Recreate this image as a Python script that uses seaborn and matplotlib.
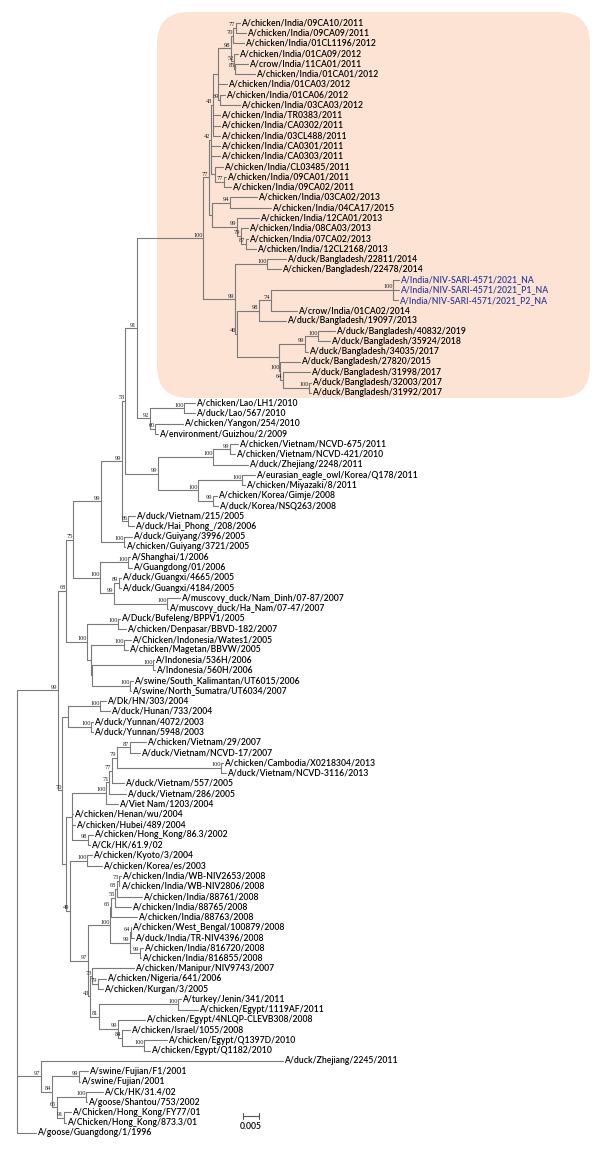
import matplotlib
matplotlib.use("Agg")
import matplotlib.pyplot as plt
from matplotlib.patches import FancyBboxPatch
from matplotlib.transforms import IdentityTransform
import numpy as np
import pandas as pd
import seaborn as sns

# ---------------- data ----------------
# tip labels, top to bottom
leaf_names = [
    "A/chicken/India/09CA10/2011", "A/chicken/India/09CA09/2011", "A/chicken/India/01CL1196/2012",
    "A/chicken/India/01CA09/2012", "A/crow/India/11CA01/2011", "A/chicken/India/01CA01/2012",
    "A/chicken/India/01CA03/2012", "A/chicken/India/01CA06/2012", "A/chicken/India/03CA03/2012",
    "A/chicken/India/TR0383/2011", "A/chicken/India/CA0302/2011", "A/chicken/India/03CL488/2011",
    "A/chicken/India/CA0301/2011", "A/chicken/India/CA0303/2011", "A/chicken/India/CL03485/2011",
    "A/chicken/India/09CA01/2011", "A/chicken/India/09CA02/2011", "A/chicken/India/03CA02/2013",
    "A/chicken/India/04CA17/2015", "A/chicken/India/12CA01/2013", "A/chicken/India/08CA03/2013",
    "A/chicken/India/07CA02/2013", "A/chicken/India/12CL2168/2013", "A/duck/Bangladesh/22811/2014",
    "A/chicken/Bangladesh/22478/2014", "A/India/NIV-SARI-4571/2021_NA", "A/India/NIV-SARI-4571/2021_P1_NA",
    "A/India/NIV-SARI-4571/2021_P2_NA", "A/crow/India/01CA02/2014", "A/duck/Bangladesh/19097/2013",
    "A/duck/Bangladesh/40832/2019", "A/duck/Bangladesh/35924/2018", "A/duck/Bangladesh/34035/2017",
    "A/duck/Bangladesh/27820/2015", "A/duck/Bangladesh/31998/2017", "A/duck/Bangladesh/32003/2017",
    "A/duck/Bangladesh/31992/2017", "A/chicken/Lao/LH1/2010", "A/duck/Lao/567/2010",
    "A/chicken/Yangon/254/2010", "A/environment/Guizhou/2/2009", "A/chicken/Vietnam/NCVD-675/2011",
    "A/chicken/Vietnam/NCVD-421/2010", "A/duck/Zhejiang/2248/2011", "A/eurasian_eagle_owl/Korea/Q178/2011",
    "A/chicken/Miyazaki/8/2011", "A/chicken/Korea/Gimje/2008", "A/duck/Korea/NSQ263/2008",
    "A/duck/Vietnam/215/2005", "A/duck/Hai_Phong_/208/2006", "A/duck/Guiyang/3996/2005",
    "A/chicken/Guiyang/3721/2005", "A/Shanghai/1/2006", "A/Guangdong/01/2006",
    "A/duck/Guangxi/4665/2005", "A/duck/Guangxi/4184/2005", "A/muscovy_duck/Nam_Dinh/07-87/2007",
    "A/muscovy_duck/Ha_Nam/07-47/2007", "A/Duck/Bufeleng/BPPV1/2005", "A/chicken/Denpasar/BBVD-182/2007",
    "A/Chicken/Indonesia/Wates1/2005", "A/chicken/Magetan/BBVW/2005", "A/Indonesia/536H/2006",
    "A/Indonesia/560H/2006", "A/swine/South_Kalimantan/UT6015/2006", "A/swine/North_Sumatra/UT6034/2007",
    "A/Dk/HN/303/2004", "A/duck/Hunan/733/2004", "A/duck/Yunnan/4072/2003",
    "A/duck/Yunnan/5948/2003", "A/chicken/Vietnam/29/2007", "A/duck/Vietnam/NCVD-17/2007",
    "A/chicken/Cambodia/X0218304/2013", "A/duck/Vietnam/NCVD-3116/2013", "A/duck/Vietnam/557/2005",
    "A/duck/Vietnam/286/2005", "A/Viet Nam/1203/2004", "A/chicken/Henan/wu/2004",
    "A/chicken/Hubei/489/2004", "A/chicken/Hong_Kong/86.3/2002", "A/Ck/HK/61.9/02",
    "A/chicken/Kyoto/3/2004", "A/chicken/Korea/es/2003", "A/chicken/India/WB-NIV2653/2008",
    "A/chicken/India/WB-NIV2806/2008", "A/chicken/India/88761/2008", "A/chicken/India/88765/2008",
    "A/chicken/India/88763/2008", "A/chicken/West_Bengal/100879/2008", "A/duck/India/TR-NIV4396/2008",
    "A/chicken/India/816720/2008", "A/chicken/India/816855/2008", "A/chicken/Manipur/NIV9743/2007",
    "A/chicken/Nigeria/641/2006", "A/chicken/Kurgan/3/2005", "A/turkey/Jenin/341/2011",
    "A/chicken/Egypt/1119AF/2011", "A/chicken/Egypt/4NLQP-CLEVB308/2008", "A/chicken/Israel/1055/2008",
    "A/chicken/Egypt/Q1397D/2010", "A/chicken/Egypt/Q1182/2010", "A/duck/Zhejiang/2245/2011",
    "A/swine/Fujian/F1/2001", "A/swine/Fujian/2001", "A/Ck/HK/31.4/02",
    "A/goose/Shantou/753/2002", "A/Chicken/Hong_Kong/FY77/01", "A/Chicken/Hong_Kong/873.3/01",
    "A/goose/Guangdong/1/1996",
]

# root-to-tip distance of each tip, in scale-bar units (16 units = 0.005 subst./site)
leaf_depth = [
    223, 229, 227, 221, 231, 238, 210, 208, 223, 203, 203, 203, 203, 203, 206, 209, 214,
    240, 254, 242, 231, 231, 239, 269, 264, 382, 382, 381, 280, 269, 318, 313, 291, 283,
    293, 294, 294, 178, 178, 166, 141, 221, 218, 231, 238, 228, 200, 201, 118, 117, 115,
    108, 113, 115, 104, 104, 163, 151, 103, 109, 114, 111, 137, 138, 116, 114, 89, 93,
    76, 76, 129, 123, 206, 209, 107, 109, 101, 56, 58, 76, 73, 75, 85, 104, 102.5, 125,
    114, 120, 114, 117, 126, 124, 117, 89, 86, 164, 181, 128, 113, 150, 133, 266, 71, 63,
    86, 70, 54, 49, 19,
]
highlight_leaves = [25, 26, 27]

# internal nodes: (id, root distance in scale-bar units, bootstrap, children)
nodes_shaded = [
    ("S", 186, "100", "Si Sb"), ("Si", 192, "77", "N42 N2013"),
    ("N42", 194, "42", "N43 L12 L13 NLi"), ("N43", 196, "43", "Ntop L9 L10 L11"),
    ("Ntop", 201, "", "N98 L6 N69"), ("N98", 214, "98", "N70i N52"),
    ("N70i", 216, "70", "N77i L2"), ("N77i", 219, "77", "L0 L1"),
    ("N52", 217, "52", "L3 N85"), ("N85", 218, "85", "L4 L5"),
    ("N69", 202.5, "69", "L7 L8"), ("NLi", 198, "", "L14 N77b"),
    ("N77b", 207, "77", "L15 L16"), ("N2013", 195, "", "N94 N99s"),
    ("N94", 213, "94", "L17 L18"), ("N99s", 220, "99", "L19 N79s"),
    ("N79s", 224, "79", "L20 N87s"), ("N87s", 229, "87", "L21 L22"),
    ("Sb", 218, "99", "N100bd N46"), ("N100bd", 250, "100", "L23 L24"),
    ("N46", 220, "46", "N98b Lb"), ("N98b", 242, "98", "N74 L29"),
    ("N74", 254, "74", "NIV L28"), ("NIV", 376, "100", "L25 L26 L27"),
    ("Lb", 262, "", "N99bd N100b2"), ("N99bd", 288, "99", "N100b3 L32"),
    ("N100b3", 301, "100", "L30 L31"), ("N100b2", 263, "100", "L33 N64b"),
    ("N64b", 266, "64", "L34 N100b4"), ("N100b4", 292, "100", "L35 L36"),
]
nodes_asia = [
    ("ROOT", 0, "", "N99a N97b L108"), ("N99a", 41, "99", "N68 N70"),
    ("N68", 49, "68", "N75 N100i"), ("N75", 56, "75", "N99b N100x"),
    ("N99b", 84, "99", "N99t N100g"), ("N99t", 105, "99", "N53 N86"),
    ("N53", 108, "53", "N91 N99c"), ("N91", 120, "91", "S N92"),
    ("N92", 133, "92", "N100L N60"), ("N100L", 167, "100", "L37 L38"),
    ("N60", 138, "60", "L39 L40"), ("N99c", 141, "99", "N100v N100k"),
    ("N100v", 196, "100", "N99v L43"), ("N99v", 213, "99", "L41 L42"),
    ("N100k", 181, "100", "N100e N99k"), ("N100e", 225, "100", "L44 L45"),
    ("N99k", 196, "99", "L46 L47"), ("N86", 111, "86", "L48 L49"),
    ("N100g", 107, "100", "L50 L51"), ("N100x", 83, "100", "N100s N99m"),
    ("N100s", 111, "100", "L52 L53"), ("N99m", 97, "99", "N89 N100m"),
    ("N89", 102, "89", "L54 L55"), ("N100m", 150, "100", "L56 L57"),
]
nodes_indonesia = [
    ("N100i", 70, "100", "N100b1 Nz"), ("N100b1", 101, "100", "L58 L59"),
    ("Nz", 74, "", "N100w Ny"), ("N100w", 107, "100", "L60 L61"),
    ("Ny", 75, "", "N100h N100sw"), ("N100h", 136, "100", "L62 L63"),
    ("N100sw", 113, "100", "L64 L65"),
]
nodes_clade2 = [
    ("N70", 45, "70", "Nhy Nu"), ("Nhy", 51, "", "N100hn N100y"),
    ("N100hn", 83, "100", "L66 L67"), ("N100y", 74, "100", "L68 L69"),
    ("Nu", 49, "", "N72 N49"), ("N72", 55, "", "N100vn L77 L78 N98hk"),
    ("N100vn", 89, "100", "N71v L76"), ("N71v", 92, "71", "N77v L75"),
    ("N77v", 95, "77", "N79v L74"), ("N79v", 100, "79", "N87v N100c"),
    ("N87v", 113, "87", "L70 L71"), ("N100c", 204, "100", "L72 L73"),
    ("N98hk", 71, "98", "L79 L80"), ("N49", 53, "49", "N100ky N97i"),
    ("N100ky", 70, "100", "L81 L82"), ("N97i", 71, "97", "N100ind N43n"),
    ("N100ind", 93, "100", "N65i N99x"), ("N65i", 94, "65", "N55 L87"),
    ("N55", 98, "55", "N68i L86"), ("N68i", 100, "68", "N73i L85"),
    ("N73i", 102, "73", "L83 L84"), ("N99x", 113, "99", "N64i N99y"),
    ("N64i", 113.5, "64", "L88 L89"), ("N99y", 123, "99", "L90 L91"),
    ("N43n", 73, "43", "N73n N81"), ("N73n", 75, "73", "L92 N79n"),
    ("N79n", 81, "79", "L93 L94"), ("N81", 82, "81", "N100tj N99e"),
    ("N100tj", 161, "100", "L95 L96"), ("N99e", 101, "99", "L97 N84"),
    ("N84", 105, "84", "L98 N100q"), ("N100q", 127, "100", "L99 L100"),
]
nodes_basal = [
    ("N97b", 24, "97", "L101 N84b"), ("N84b", 35, "84", "N99f N65hk"),
    ("N99f", 62, "99", "L102 L103"), ("N65hk", 40, "65", "N100ck N91hk"),
    ("N100ck", 69, "100", "L104 L105"), ("N91hk", 47, "91", "L106 L107"),
]

UNIT = 0.005 / 16          # substitutions/site per scale-bar unit
SCALE_BAR = 0.005
SCALE_LABEL = "0.005"

# ---------------- tree layout ----------------
all_nodes = nodes_shaded + nodes_asia + nodes_indonesia + nodes_clade2 + nodes_basal
depth, support, kids = {}, {}, {}
for nid, d, s, k in all_nodes:
    depth[nid] = d * UNIT
    support[nid] = s
    kids[nid] = k.split()
for i, d in enumerate(leaf_depth):
    depth[f"L{i}"] = d * UNIT

ycache = {}
def ypos(n):
    if n in ycache:
        return ycache[n]
    if n.startswith("L") and n[1:].isdigit():
        v = float(n[1:])
    else:
        ys = [ypos(c) for c in kids[n]]
        v = (min(ys) + max(ys)) / 2
    ycache[n] = v
    return v

rows = []
seg = 0
for nid in kids:
    cy = [ypos(c) for c in kids[nid]]
    rows += [(depth[nid], min(cy), seg), (depth[nid], max(cy), seg)]
    seg += 1
    for c in kids[nid]:
        rows += [(depth[nid], ypos(c), seg), (depth[c], ypos(c), seg)]
        seg += 1
segs = pd.DataFrame(rows, columns=["x", "y", "seg"])

# ---------------- drawing ----------------
sns.set_theme(style="white")
plt.rcParams["font.family"] = ["Lato", "DejaVu Sans"]

W, H = 600, 1149
fig = plt.figure(figsize=(W / 100, H / 100), dpi=100)
ax = fig.add_axes([0, 0, 1, 1])
ax.set_axis_off()
ax.patch.set_alpha(0)

ROOT_PX, FIRST_PX, STEP_PX = 17, 22.7, 10.28
def xd(px):
    return (px - ROOT_PX) * UNIT
PX = UNIT  # one pixel in x data units
ax.set_xlim(xd(0), xd(W))
ax.set_ylim((H - FIRST_PX) / STEP_PX, -FIRST_PX / STEP_PX)

# shaded clade box (rounded corners in pixels)
x0, y0 = ax.transData.transform((xd(157), (398 - FIRST_PX) / STEP_PX))
x1, y1 = ax.transData.transform((xd(590), (12 - FIRST_PX) / STEP_PX))
box = FancyBboxPatch((x0, y0), x1 - x0, y1 - y0,
                     boxstyle="round,pad=0,rounding_size=32",
                     transform=IdentityTransform(), fc="#FCE3D3", ec="none", zorder=-5)
fig.add_artist(box)

sns.lineplot(data=segs, x="x", y="y", units="seg", estimator=None, sort=False,
             color="#7a7a7a", linewidth=0.8, ax=ax, legend=False)
ax.set_xlabel("")
ax.set_ylabel("")

# fit label font size to reference width
WEIGHT = "semibold"
fig.canvas.draw()
r = fig.canvas.get_renderer()
t = ax.text(0, 0, "A/chicken/India/09CA10/2011", fontsize=10, fontweight=WEIGHT)
w = t.get_window_extent(r).width
t.remove()
LFS = 10 * 121 / w

for i, name in enumerate(leaf_names):
    col = "#2E3F9E" if i in highlight_leaves else "#000000"
    ax.text(depth[f"L{i}"] + 1.5 * PX, i, name, fontsize=LFS, color=col,
            fontweight=WEIGHT, ha="left", va="center")

for nid in kids:
    if support[nid]:
        ax.text(depth[nid] - 0.5 * PX, ypos(nid) - 0.3, support[nid],
                fontsize=4.6, family=["Liberation Serif", "DejaVu Serif"],
                color="#222222", ha="right", va="center")

# scale bar
sx, sy = xd(243), (1116 - FIRST_PX) / STEP_PX
ax.plot([sx, sx + SCALE_BAR], [sy, sy], color="#555555", lw=0.8)
for xx in (sx, sx + SCALE_BAR):
    ax.plot([xx, xx], [sy - 0.3, sy + 0.3], color="#555555", lw=0.8)
ax.text(sx + SCALE_BAR / 2, (1126 - FIRST_PX) / STEP_PX, SCALE_LABEL,
        fontsize=LFS, color="#000000", fontweight=WEIGHT, ha="center", va="center")

fig.savefig("out.png", dpi=100)
